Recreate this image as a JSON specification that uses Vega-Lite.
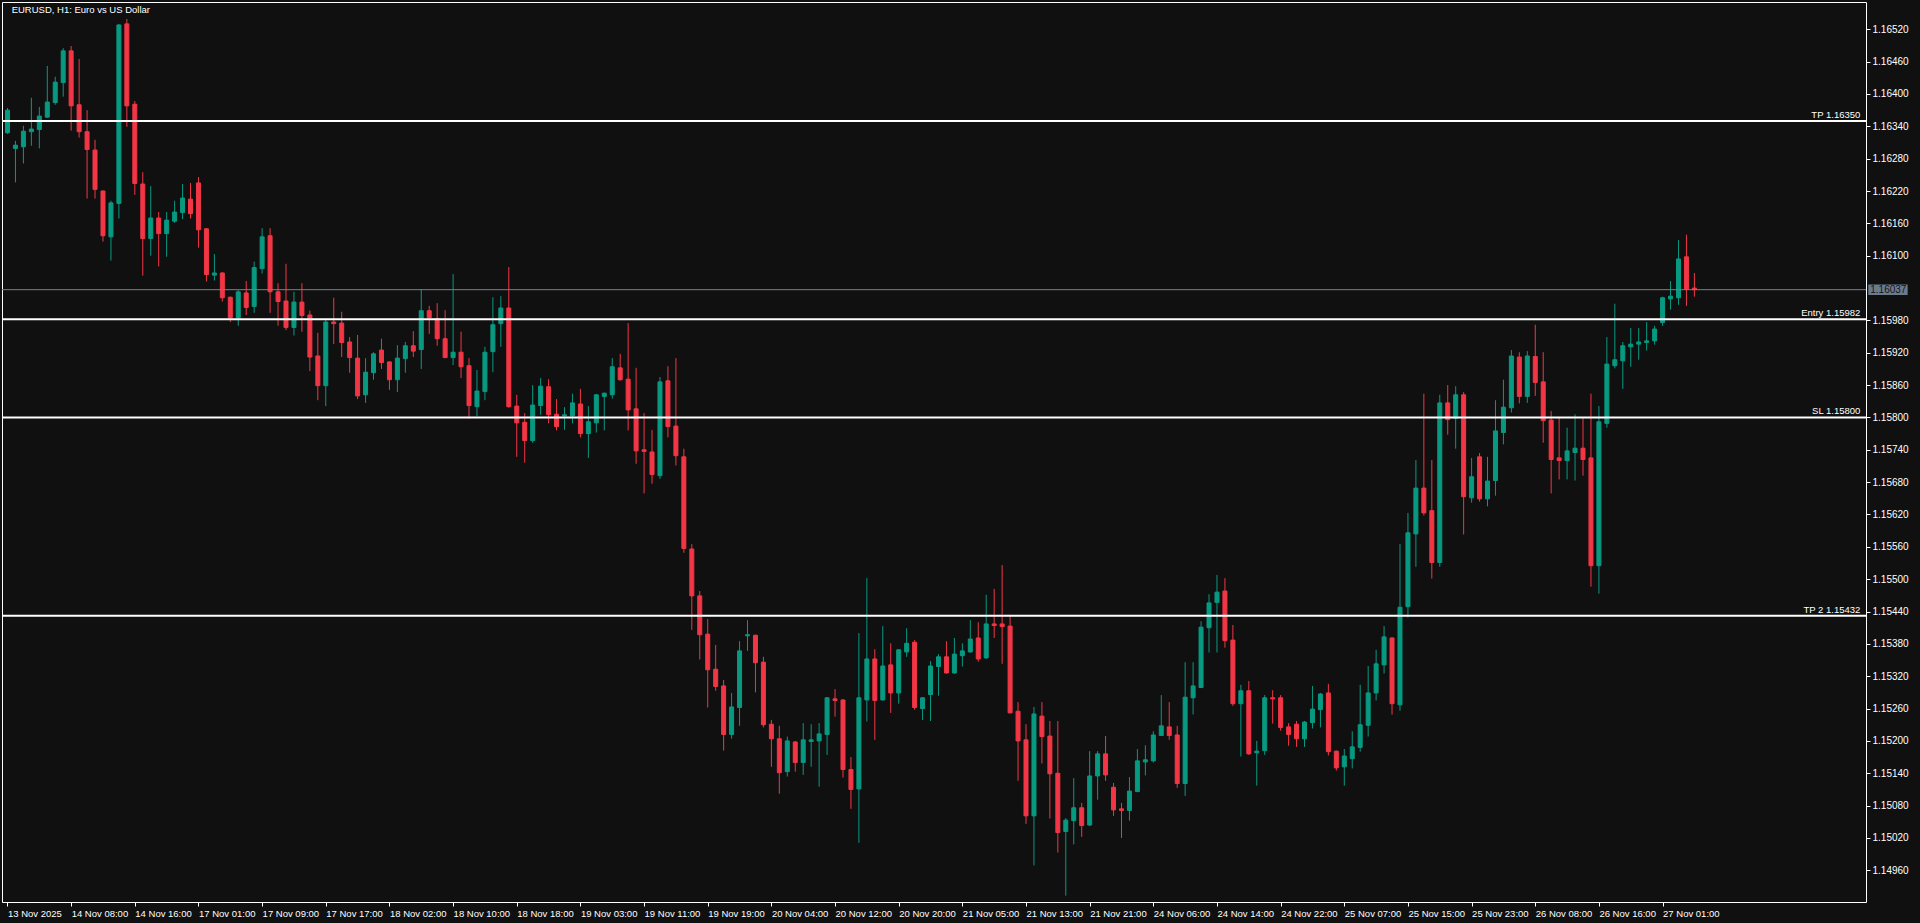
{
"$schema":"https://vega.github.io/schema/vega-lite/v6.json",
"width":1864,"height":900,
"autosize":{"type":"none"},
"padding":{"left":2,"top":2,"right":54,"bottom":21},
"background":"#101010",
"config":{"view":{"stroke":"#ffffff","strokeWidth":1,"fill":"#101010"},"font":"Liberation Sans","axis":{"grid":false,"domain":false,"tickColor":"#ffffff","tickSize":4,"labelColor":"#ffffff","labelFont":"Liberation Sans","labelFontSize":9.5,"labelOverlap":false,"labelBound":false,"labelFlush":false}},
"datasets":{
"candles":[
{"i":0,"o":1.16328,"h":1.16374,"l":1.16326,"c":1.16370},
{"i":1,"o":1.16299,"h":1.16313,"l":1.16236,"c":1.16305},
{"i":2,"o":1.16302,"h":1.16341,"l":1.16271,"c":1.16331},
{"i":3,"o":1.16330,"h":1.16393,"l":1.16304,"c":1.16335},
{"i":4,"o":1.16334,"h":1.16376,"l":1.16299,"c":1.16359},
{"i":5,"o":1.16357,"h":1.16452,"l":1.16356,"c":1.16385},
{"i":6,"o":1.16384,"h":1.16432,"l":1.16380,"c":1.16422},
{"i":7,"o":1.16421,"h":1.16485,"l":1.16395,"c":1.16480},
{"i":8,"o":1.16480,"h":1.16489,"l":1.16332,"c":1.16378},
{"i":9,"o":1.16380,"h":1.16465,"l":1.16319,"c":1.16330},
{"i":10,"o":1.16330,"h":1.16370,"l":1.16206,"c":1.16297},
{"i":11,"o":1.16296,"h":1.16315,"l":1.16206,"c":1.16223},
{"i":12,"o":1.16220,"h":1.16221,"l":1.16126,"c":1.16137},
{"i":13,"o":1.16135,"h":1.16202,"l":1.16091,"c":1.16198},
{"i":14,"o":1.16197,"h":1.16530,"l":1.16169,"c":1.16528},
{"i":15,"o":1.16530,"h":1.16539,"l":1.16339,"c":1.16378},
{"i":16,"o":1.16381,"h":1.16387,"l":1.16213,"c":1.16234},
{"i":17,"o":1.16233,"h":1.16255,"l":1.16063,"c":1.16132},
{"i":18,"o":1.16132,"h":1.16229,"l":1.16100,"c":1.16170},
{"i":19,"o":1.16170,"h":1.16181,"l":1.16080,"c":1.16141},
{"i":20,"o":1.16141,"h":1.16181,"l":1.16098,"c":1.16166},
{"i":21,"o":1.16164,"h":1.16202,"l":1.16161,"c":1.16181},
{"i":22,"o":1.16180,"h":1.16233,"l":1.16168,"c":1.16207},
{"i":23,"o":1.16205,"h":1.16235,"l":1.16169,"c":1.16178},
{"i":24,"o":1.16235,"h":1.16246,"l":1.16115,"c":1.16148},
{"i":25,"o":1.16150,"h":1.16151,"l":1.16052,"c":1.16065},
{"i":26,"o":1.16064,"h":1.16103,"l":1.16054,"c":1.16068},
{"i":27,"o":1.16068,"h":1.16069,"l":1.16015,"c":1.16022},
{"i":28,"o":1.16023,"h":1.16024,"l":1.15977,"c":1.15985},
{"i":29,"o":1.15985,"h":1.16036,"l":1.15970,"c":1.16033},
{"i":30,"o":1.16031,"h":1.16053,"l":1.15990,"c":1.16004},
{"i":31,"o":1.16006,"h":1.16089,"l":1.15994,"c":1.16078},
{"i":32,"o":1.16076,"h":1.16151,"l":1.16067,"c":1.16135},
{"i":33,"o":1.16137,"h":1.16151,"l":1.15994,"c":1.16033},
{"i":34,"o":1.16033,"h":1.16049,"l":1.15970,"c":1.16015},
{"i":35,"o":1.16016,"h":1.16085,"l":1.15962,"c":1.15967},
{"i":36,"o":1.15967,"h":1.16033,"l":1.15952,"c":1.16014},
{"i":37,"o":1.16014,"h":1.16049,"l":1.15959,"c":1.15989},
{"i":38,"o":1.15990,"h":1.15998,"l":1.15886,"c":1.15912},
{"i":39,"o":1.15914,"h":1.15957,"l":1.15832,"c":1.15859},
{"i":40,"o":1.15859,"h":1.15981,"l":1.15821,"c":1.15977},
{"i":41,"o":1.15977,"h":1.16022,"l":1.15936,"c":1.15974},
{"i":42,"o":1.15975,"h":1.15996,"l":1.15912,"c":1.15939},
{"i":43,"o":1.15940,"h":1.15949,"l":1.15883,"c":1.15911},
{"i":44,"o":1.15910,"h":1.15953,"l":1.15834,"c":1.15840},
{"i":45,"o":1.15842,"h":1.15910,"l":1.15827,"c":1.15884},
{"i":46,"o":1.15883,"h":1.15921,"l":1.15870,"c":1.15918},
{"i":47,"o":1.15925,"h":1.15946,"l":1.15890,"c":1.15902},
{"i":48,"o":1.15903,"h":1.15904,"l":1.15851,"c":1.15870},
{"i":49,"o":1.15870,"h":1.15934,"l":1.15847,"c":1.15910},
{"i":50,"o":1.15909,"h":1.15940,"l":1.15883,"c":1.15933},
{"i":51,"o":1.15933,"h":1.15960,"l":1.15912,"c":1.15923},
{"i":52,"o":1.15926,"h":1.16038,"l":1.15890,"c":1.15998},
{"i":53,"o":1.15998,"h":1.16007,"l":1.15955,"c":1.15985},
{"i":54,"o":1.15983,"h":1.16012,"l":1.15933,"c":1.15946},
{"i":55,"o":1.15946,"h":1.15999,"l":1.15910,"c":1.15911},
{"i":56,"o":1.15911,"h":1.16066,"l":1.15897,"c":1.15921},
{"i":57,"o":1.15921,"h":1.15959,"l":1.15873,"c":1.15894},
{"i":58,"o":1.15896,"h":1.15910,"l":1.15798,"c":1.15822},
{"i":59,"o":1.15820,"h":1.15888,"l":1.15802,"c":1.15849},
{"i":60,"o":1.15848,"h":1.15931,"l":1.15832,"c":1.15921},
{"i":61,"o":1.15922,"h":1.16023,"l":1.15884,"c":1.15972},
{"i":62,"o":1.15974,"h":1.16025,"l":1.15931,"c":1.16003},
{"i":63,"o":1.16003,"h":1.16079,"l":1.15818,"c":1.15820},
{"i":64,"o":1.15821,"h":1.15842,"l":1.15727,"c":1.15790},
{"i":65,"o":1.15791,"h":1.15808,"l":1.15716,"c":1.15757},
{"i":66,"o":1.15757,"h":1.15860,"l":1.15753,"c":1.15823},
{"i":67,"o":1.15822,"h":1.15873,"l":1.15805,"c":1.15858},
{"i":68,"o":1.15857,"h":1.15871,"l":1.15789,"c":1.15805},
{"i":69,"o":1.15806,"h":1.15834,"l":1.15776,"c":1.15783},
{"i":70,"o":1.15803,"h":1.15819,"l":1.15777,"c":1.15805},
{"i":71,"o":1.15803,"h":1.15844,"l":1.15789,"c":1.15827},
{"i":72,"o":1.15825,"h":1.15853,"l":1.15763,"c":1.15770},
{"i":73,"o":1.15770,"h":1.15821,"l":1.15725,"c":1.15792},
{"i":74,"o":1.15790,"h":1.15843,"l":1.15772,"c":1.15842},
{"i":75,"o":1.15839,"h":1.15846,"l":1.15776,"c":1.15845},
{"i":76,"o":1.15842,"h":1.15910,"l":1.15835,"c":1.15894},
{"i":77,"o":1.15892,"h":1.15918,"l":1.15868,"c":1.15870},
{"i":78,"o":1.15871,"h":1.15975,"l":1.15776,"c":1.15814},
{"i":79,"o":1.15816,"h":1.15892,"l":1.15714,"c":1.15738},
{"i":80,"o":1.15740,"h":1.15808,"l":1.15659,"c":1.15737},
{"i":81,"o":1.15736,"h":1.15777,"l":1.15677,"c":1.15694},
{"i":82,"o":1.15692,"h":1.15875,"l":1.15686,"c":1.15866},
{"i":83,"o":1.15868,"h":1.15895,"l":1.15763,"c":1.15783},
{"i":84,"o":1.15784,"h":1.15910,"l":1.15711,"c":1.15729},
{"i":85,"o":1.15727,"h":1.15742,"l":1.15549,"c":1.15557},
{"i":86,"o":1.15556,"h":1.15565,"l":1.15406,"c":1.15469},
{"i":87,"o":1.15469,"h":1.15478,"l":1.15351,"c":1.15397},
{"i":88,"o":1.15398,"h":1.15426,"l":1.15262,"c":1.15332},
{"i":89,"o":1.15333,"h":1.15378,"l":1.15293,"c":1.15301},
{"i":90,"o":1.15302,"h":1.15313,"l":1.15182,"c":1.15212},
{"i":91,"o":1.15212,"h":1.15289,"l":1.15204,"c":1.15263},
{"i":92,"o":1.15262,"h":1.15385,"l":1.15228,"c":1.15367},
{"i":93,"o":1.15395,"h":1.15424,"l":1.15367,"c":1.15397},
{"i":94,"o":1.15396,"h":1.15397,"l":1.15290,"c":1.15345},
{"i":95,"o":1.15346,"h":1.15356,"l":1.15225,"c":1.15230},
{"i":96,"o":1.15231,"h":1.15239,"l":1.15152,"c":1.15204},
{"i":97,"o":1.15204,"h":1.15228,"l":1.15102,"c":1.15141},
{"i":98,"o":1.15143,"h":1.15208,"l":1.15134,"c":1.15200},
{"i":99,"o":1.15198,"h":1.15200,"l":1.15143,"c":1.15160},
{"i":100,"o":1.15160,"h":1.15233,"l":1.15137,"c":1.15202},
{"i":101,"o":1.15199,"h":1.15231,"l":1.15152,"c":1.15202},
{"i":102,"o":1.15200,"h":1.15233,"l":1.15115,"c":1.15213},
{"i":103,"o":1.15212,"h":1.15281,"l":1.15174,"c":1.15280},
{"i":104,"o":1.15278,"h":1.15296,"l":1.15245,"c":1.15275},
{"i":105,"o":1.15276,"h":1.15277,"l":1.15132,"c":1.15147},
{"i":106,"o":1.15147,"h":1.15170,"l":1.15074,"c":1.15110},
{"i":107,"o":1.15111,"h":1.15400,"l":1.15011,"c":1.15280},
{"i":108,"o":1.15276,"h":1.15502,"l":1.15236,"c":1.15352},
{"i":109,"o":1.15352,"h":1.15370,"l":1.15202,"c":1.15275},
{"i":110,"o":1.15276,"h":1.15413,"l":1.15275,"c":1.15339},
{"i":111,"o":1.15341,"h":1.15381,"l":1.15252,"c":1.15289},
{"i":112,"o":1.15289,"h":1.15370,"l":1.15269,"c":1.15369},
{"i":113,"o":1.15365,"h":1.15409,"l":1.15356,"c":1.15381},
{"i":114,"o":1.15383,"h":1.15387,"l":1.15258,"c":1.15262},
{"i":115,"o":1.15260,"h":1.15281,"l":1.15239,"c":1.15280},
{"i":116,"o":1.15286,"h":1.15348,"l":1.15237,"c":1.15339},
{"i":117,"o":1.15338,"h":1.15361,"l":1.15284,"c":1.15356},
{"i":118,"o":1.15356,"h":1.15385,"l":1.15325,"c":1.15326},
{"i":119,"o":1.15326,"h":1.15391,"l":1.15325,"c":1.15361},
{"i":120,"o":1.15358,"h":1.15381,"l":1.15338,"c":1.15367},
{"i":121,"o":1.15365,"h":1.15424,"l":1.15364,"c":1.15389},
{"i":122,"o":1.15391,"h":1.15420,"l":1.15347,"c":1.15352},
{"i":123,"o":1.15354,"h":1.15471,"l":1.15352,"c":1.15417},
{"i":124,"o":1.15417,"h":1.15482,"l":1.15391,"c":1.15414},
{"i":125,"o":1.15417,"h":1.15526,"l":1.15343,"c":1.15412},
{"i":126,"o":1.15413,"h":1.15434,"l":1.15251,"c":1.15252},
{"i":127,"o":1.15255,"h":1.15272,"l":1.15126,"c":1.15200},
{"i":128,"o":1.15202,"h":1.15231,"l":1.15046,"c":1.15061},
{"i":129,"o":1.15061,"h":1.15263,"l":1.14969,"c":1.15250},
{"i":130,"o":1.15246,"h":1.15272,"l":1.15158,"c":1.15208},
{"i":131,"o":1.15209,"h":1.15237,"l":1.15056,"c":1.15139},
{"i":132,"o":1.15140,"h":1.15237,"l":1.14993,"c":1.15030},
{"i":133,"o":1.15032,"h":1.15057,"l":1.14913,"c":1.15053},
{"i":134,"o":1.15052,"h":1.15131,"l":1.15008,"c":1.15076},
{"i":135,"o":1.15076,"h":1.15085,"l":1.15022,"c":1.15043},
{"i":136,"o":1.15044,"h":1.15181,"l":1.15042,"c":1.15135},
{"i":137,"o":1.15135,"h":1.15181,"l":1.15091,"c":1.15176},
{"i":138,"o":1.15176,"h":1.15209,"l":1.15126,"c":1.15137},
{"i":139,"o":1.15114,"h":1.15122,"l":1.15061,"c":1.15072},
{"i":140,"o":1.15074,"h":1.15085,"l":1.15020,"c":1.15071},
{"i":141,"o":1.15071,"h":1.15133,"l":1.15052,"c":1.15107},
{"i":142,"o":1.15106,"h":1.15185,"l":1.15105,"c":1.15163},
{"i":143,"o":1.15161,"h":1.15192,"l":1.15136,"c":1.15165},
{"i":144,"o":1.15163,"h":1.15218,"l":1.15160,"c":1.15211},
{"i":145,"o":1.15210,"h":1.15285,"l":1.15209,"c":1.15228},
{"i":146,"o":1.15226,"h":1.15272,"l":1.15202,"c":1.15210},
{"i":147,"o":1.15211,"h":1.15228,"l":1.15113,"c":1.15121},
{"i":148,"o":1.15121,"h":1.15346,"l":1.15098,"c":1.15281},
{"i":149,"o":1.15280,"h":1.15346,"l":1.15249,"c":1.15302},
{"i":150,"o":1.15299,"h":1.15422,"l":1.15298,"c":1.15411},
{"i":151,"o":1.15410,"h":1.15472,"l":1.15364,"c":1.15456},
{"i":152,"o":1.15457,"h":1.15508,"l":1.15364,"c":1.15476},
{"i":153,"o":1.15478,"h":1.15502,"l":1.15373,"c":1.15386},
{"i":154,"o":1.15387,"h":1.15415,"l":1.15265,"c":1.15269},
{"i":155,"o":1.15269,"h":1.15304,"l":1.15171,"c":1.15293},
{"i":156,"o":1.15293,"h":1.15311,"l":1.15174,"c":1.15176},
{"i":157,"o":1.15178,"h":1.15200,"l":1.15117,"c":1.15181},
{"i":158,"o":1.15182,"h":1.15285,"l":1.15174,"c":1.15280},
{"i":159,"o":1.15280,"h":1.15294,"l":1.15232,"c":1.15278},
{"i":160,"o":1.15280,"h":1.15285,"l":1.15219,"c":1.15225},
{"i":161,"o":1.15226,"h":1.15233,"l":1.15191,"c":1.15212},
{"i":162,"o":1.15231,"h":1.15237,"l":1.15189,"c":1.15204},
{"i":163,"o":1.15204,"h":1.15237,"l":1.15189,"c":1.15235},
{"i":164,"o":1.15234,"h":1.15302,"l":1.15223,"c":1.15259},
{"i":165,"o":1.15258,"h":1.15289,"l":1.15225,"c":1.15287},
{"i":166,"o":1.15289,"h":1.15306,"l":1.15173,"c":1.15180},
{"i":167,"o":1.15181,"h":1.15182,"l":1.15145,"c":1.15150},
{"i":168,"o":1.15152,"h":1.15185,"l":1.15117,"c":1.15172},
{"i":169,"o":1.15167,"h":1.15218,"l":1.15149,"c":1.15189},
{"i":170,"o":1.15188,"h":1.15304,"l":1.15180,"c":1.15230},
{"i":171,"o":1.15229,"h":1.15339,"l":1.15208,"c":1.15289},
{"i":172,"o":1.15289,"h":1.15369,"l":1.15275,"c":1.15343},
{"i":173,"o":1.15341,"h":1.15413,"l":1.15325,"c":1.15393},
{"i":174,"o":1.15391,"h":1.15392,"l":1.15249,"c":1.15269},
{"i":175,"o":1.15267,"h":1.15565,"l":1.15256,"c":1.15448},
{"i":176,"o":1.15449,"h":1.15623,"l":1.15429,"c":1.15586},
{"i":177,"o":1.15584,"h":1.15721,"l":1.15523,"c":1.15669},
{"i":178,"o":1.15669,"h":1.15844,"l":1.15618,"c":1.15623},
{"i":179,"o":1.15627,"h":1.15721,"l":1.15501,"c":1.15531},
{"i":180,"o":1.15531,"h":1.15842,"l":1.15523,"c":1.15827},
{"i":181,"o":1.15827,"h":1.15860,"l":1.15768,"c":1.15796},
{"i":182,"o":1.15798,"h":1.15858,"l":1.15742,"c":1.15842},
{"i":183,"o":1.15842,"h":1.15847,"l":1.15583,"c":1.15653},
{"i":184,"o":1.15651,"h":1.15725,"l":1.15642,"c":1.15690},
{"i":185,"o":1.15727,"h":1.15734,"l":1.15644,"c":1.15649},
{"i":186,"o":1.15649,"h":1.15727,"l":1.15635,"c":1.15682},
{"i":187,"o":1.15683,"h":1.15832,"l":1.15655,"c":1.15775},
{"i":188,"o":1.15772,"h":1.15870,"l":1.15750,"c":1.15819},
{"i":189,"o":1.15818,"h":1.15925,"l":1.15809,"c":1.15914},
{"i":190,"o":1.15912,"h":1.15921,"l":1.15826,"c":1.15839},
{"i":191,"o":1.15839,"h":1.15923,"l":1.15827,"c":1.15914},
{"i":192,"o":1.15913,"h":1.15972,"l":1.15840,"c":1.15865},
{"i":193,"o":1.15866,"h":1.15921,"l":1.15753,"c":1.15794},
{"i":194,"o":1.15795,"h":1.15812,"l":1.15659,"c":1.15722},
{"i":195,"o":1.15725,"h":1.15799,"l":1.15685,"c":1.15720},
{"i":196,"o":1.15720,"h":1.15781,"l":1.15685,"c":1.15738},
{"i":197,"o":1.15735,"h":1.15806,"l":1.15683,"c":1.15743},
{"i":198,"o":1.15743,"h":1.15799,"l":1.15692,"c":1.15722},
{"i":199,"o":1.15725,"h":1.15844,"l":1.15486,"c":1.15525},
{"i":200,"o":1.15525,"h":1.15821,"l":1.15473,"c":1.15792},
{"i":201,"o":1.15789,"h":1.15949,"l":1.15781,"c":1.15899},
{"i":202,"o":1.15896,"h":1.16011,"l":1.15891,"c":1.15907},
{"i":203,"o":1.15905,"h":1.15940,"l":1.15853,"c":1.15933},
{"i":204,"o":1.15931,"h":1.15966,"l":1.15894,"c":1.15936},
{"i":205,"o":1.15936,"h":1.15966,"l":1.15907,"c":1.15940},
{"i":206,"o":1.15939,"h":1.15977,"l":1.15924,"c":1.15942},
{"i":207,"o":1.15942,"h":1.15970,"l":1.15935,"c":1.15964},
{"i":208,"o":1.15976,"h":1.16024,"l":1.15970,"c":1.16022},
{"i":209,"o":1.16020,"h":1.16053,"l":1.16000,"c":1.16025},
{"i":210,"o":1.16022,"h":1.16129,"l":1.16009,"c":1.16094},
{"i":211,"o":1.16098,"h":1.16139,"l":1.16007,"c":1.16038},
{"i":212,"o":1.16040,"h":1.16068,"l":1.16024,"c":1.16037}
],
"levels":[
{"price":1.16350,"label":"TP 1.16350"},
{"price":1.15982,"label":"Entry 1.15982"},
{"price":1.15800,"label":"SL 1.15800"},
{"price":1.15432,"label":"TP 2 1.15432"}
],
"current":[{"p":1.16037,"lab":"1.16037"}],
"heading":[{"t":"EURUSD, H1:  Euro vs US Dollar"}]
},
"layer":[
{"data":{"name":"candles"},
 "mark":{"type":"rule","strokeWidth":1,"clip":true},
 "encoding":{
  "x":{"field":"i","type":"quantitative","title":null,"scale":{"domain":[-0.0625,232.9375],"nice":false,"zero":false},
   "axis":{"orient":"bottom","values":[0,8,16,24,32,40,48,56,64,72,80,88,96,104,112,120,128,136,144,152,160,168,176,184,192,200,208],"tickCount":60,
    "labelExpr":"['13 Nov 2025','14 Nov 08:00','14 Nov 16:00','17 Nov 01:00','17 Nov 09:00','17 Nov 17:00','18 Nov 02:00','18 Nov 10:00','18 Nov 18:00','19 Nov 03:00','19 Nov 11:00','19 Nov 19:00','20 Nov 04:00','20 Nov 12:00','20 Nov 20:00','21 Nov 05:00','21 Nov 13:00','21 Nov 21:00','24 Nov 06:00','24 Nov 14:00','24 Nov 22:00','25 Nov 07:00','25 Nov 15:00','25 Nov 23:00','26 Nov 08:00','26 Nov 16:00','27 Nov 01:00'][round(datum.value/8)]",
    "labelAlign":"left","labelBaseline":"top","labelDx":-4,"labelPadding":2,"tickSize":4,"labelOverlap":false,"labelFlush":false,"labelBound":false,"title":null}},
  "y":{"field":"l","type":"quantitative","title":null,"scale":{"domain":[1.149012,1.165706],"nice":false,"zero":false},
   "axis":{"orient":"right","values":[1.1496,1.1502,1.1508,1.1514,1.152,1.1526,1.1532,1.1538,1.1544,1.155,1.1556,1.1562,1.1568,1.1574,1.158,1.1586,1.1592,1.1598,1.161,1.1616,1.1622,1.1628,1.1634,1.164,1.1646,1.1652],
    "tickCount":60,"format":".5f","labelAlign":"left","labelBaseline":"middle","labelPadding":2,"tickSize":4,"labelOverlap":false,"labelBound":false,"labelFlush":false,"labelFontSize":10,"title":null}},
  "y2":{"field":"h"},
  "color":{"condition":{"test":"datum.c >= datum.o","value":"#089981"},"value":"#f23645"}
 }},
{"data":{"name":"candles"},
 "mark":{"type":"bar","size":4,"strokeWidth":1,"clip":true},
 "encoding":{
  "x":{"field":"i","type":"quantitative","title":null,"scale":{"domain":[-0.0625,232.9375],"nice":false,"zero":false}},
  "y":{"field":"o","type":"quantitative","title":null,"scale":{"domain":[1.149012,1.165706],"nice":false,"zero":false}},
  "y2":{"field":"c"},
  "fill":{"condition":{"test":"datum.c >= datum.o","value":"#089981"},"value":"#f23645"},
  "stroke":{"condition":{"test":"datum.c >= datum.o","value":"#089981"},"value":"#f23645"}
 }},
{"data":{"name":"current"},
 "mark":{"type":"rule","color":"#77818c","strokeWidth":1},
 "encoding":{"y":{"field":"p","type":"quantitative","title":null,"scale":{"domain":[1.149012,1.165706],"nice":false,"zero":false}}}},
{"data":{"name":"levels"},
 "mark":{"type":"rule","color":"#ffffff","strokeWidth":2},
 "encoding":{"y":{"field":"price","type":"quantitative","title":null,"scale":{"domain":[1.149012,1.165706],"nice":false,"zero":false}}}},
{"data":{"name":"levels"},
 "mark":{"type":"text","color":"#ffffff","fontSize":9.5,"font":"Liberation Sans","align":"right","baseline":"alphabetic","dy":-3},
 "encoding":{
  "x":{"datum":232.85,"type":"quantitative","scale":{"domain":[-0.0625,232.9375],"nice":false,"zero":false}},
  "y":{"field":"price","type":"quantitative","title":null,"scale":{"domain":[1.149012,1.165706],"nice":false,"zero":false}},
  "text":{"field":"label"}}},
{"data":{"name":"heading"},
 "mark":{"type":"text","color":"#ffffff","fontSize":9.5,"font":"Liberation Sans","align":"left","baseline":"alphabetic"},
 "encoding":{
  "x":{"datum":0.525,"type":"quantitative","scale":{"domain":[-0.0625,232.9375],"nice":false,"zero":false}},
  "y":{"datum":1.165493,"type":"quantitative","scale":{"domain":[1.149012,1.165706],"nice":false,"zero":false}},
  "text":{"field":"t"}}},
{"data":{"name":"current"},
 "mark":{"type":"rect","color":"#6b7b8d","clip":false},
 "encoding":{
  "x":{"datum":233.85,"type":"quantitative","scale":{"domain":[-0.0625,232.9375],"nice":false,"zero":false}},
  "x2":{"datum":238.8},
  "y":{"datum":1.160273,"type":"quantitative","scale":{"domain":[1.149012,1.165706],"nice":false,"zero":false}},
  "y2":{"datum":1.160467}}},
{"data":{"name":"current"},
 "mark":{"type":"text","color":"#161616","fontSize":10,"font":"Liberation Sans","align":"left","baseline":"middle","clip":false},
 "encoding":{
  "x":{"datum":234.1,"type":"quantitative","scale":{"domain":[-0.0625,232.9375],"nice":false,"zero":false}},
  "y":{"field":"p","type":"quantitative","title":null,"scale":{"domain":[1.149012,1.165706],"nice":false,"zero":false}},
  "text":{"field":"lab"}}}
]
}
